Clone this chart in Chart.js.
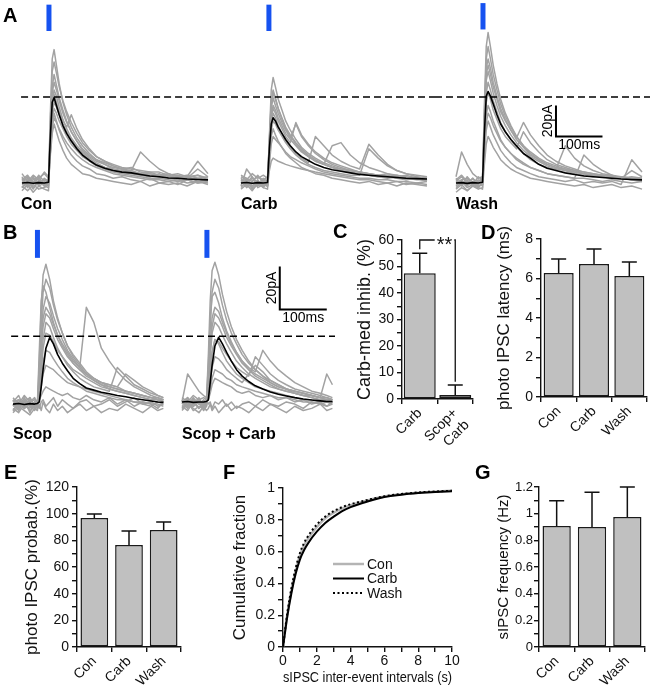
<!DOCTYPE html>
<html>
<head>
<meta charset="utf-8">
<title>Carbachol and photo IPSCs</title>
<script src="https://cdn.jsdelivr.net/npm/chart.js@4.4.1/dist/chart.umd.min.js"></script>
<style>
    body { margin: 0; background: #fff; font-family: "Liberation Sans", Arial, sans-serif; }
    #fig { position: relative; width: 650px; height: 687px; overflow: hidden; }
    #fig canvas { position: absolute; }
    .lab { position: absolute; font-weight: bold; line-height: 1; color: #000; white-space: nowrap; }
    .big { font-size: 20px; }
    .cond { font-size: 16px; }
</style>
</head>
<body>
<div id="fig">
    <canvas id="a1" width="220" height="200" style="left:0;top:0"></canvas>
    <canvas id="a2" width="215" height="200" style="left:220px;top:0"></canvas>
    <canvas id="a3" width="215" height="200" style="left:435px;top:0"></canvas>
    <canvas id="b1" width="175" height="200" style="left:0;top:220px"></canvas>
    <canvas id="b2" width="160" height="200" style="left:175px;top:220px"></canvas>
    <canvas id="cC" width="155" height="240" style="left:325px;top:222px"></canvas>
    <canvas id="cD" width="162" height="220" style="left:488px;top:222px"></canvas>
    <canvas id="cE" width="190" height="217" style="left:0;top:470px"></canvas>
    <canvas id="cF" width="240" height="217" style="left:222px;top:470px"></canvas>
    <canvas id="cG" width="180" height="217" style="left:470px;top:470px"></canvas>

    <div class="lab big" style="left:3px;top:5px">A</div>
    <div class="lab big" style="left:3px;top:222px">B</div>
    <div class="lab big" style="left:333px;top:221px">C</div>
    <div class="lab big" style="left:481px;top:222px">D</div>
    <div class="lab big" style="left:4px;top:462px">E</div>
    <div class="lab big" style="left:223px;top:462px">F</div>
    <div class="lab big" style="left:475px;top:462px">G</div>

    <div class="lab cond" style="left:21px;top:196px">Con</div>
    <div class="lab cond" style="left:241px;top:196px">Carb</div>
    <div class="lab cond" style="left:456px;top:196px">Wash</div>
    <div class="lab cond" style="left:13px;top:426px">Scop</div>
    <div class="lab cond" style="left:182px;top:426px">Scop + Carb</div>
</div>

<script>
    // ---- data ----
    // A: photo IPSC sweeps (ms, pA)
    const timeA = [0, 12, 24, 36, 48, 57, 61, 65, 69, 74, 80, 88, 96, 106, 118, 130, 145, 160, 178, 196, 215, 235, 255, 275, 295, 315, 335, 355, 378, 400];
    const conMean = [0, 0.3, -0.2, 0.2, 0, 0.5, 30, 52, 55, 50, 44, 37, 32, 27, 22, 18, 14.5, 11.5, 9.5, 8, 7, 6.5, 5.5, 4.5, 4, 3.2, 3, 2.5, 2.2, 2];
    const conSweeps = [
        [3, -2, 4, -1, 2, 0, 45, 80, 86, 76, 64, 52, 44, 36, 29, 24, 19, 15, 13, 11, 9, 10, 7, 6, 5, 6, 4, 5, 3, 4],
        [-3, 2, -4, 1, -2, -3, 35, 62, 70, 63, 55, 47, 40, 33, 27, 21, 17, 14, 12, 9, 8, 7, 5, 4, 6, 3, 2, 4, 1, 2],
        [6, 1, 5, 2, 7, 4, 20, 38, 45, 40, 34, 28, 23, 18, 14, 11, 9, 6, 5, 3, 4, 2, 1, 3, 0, 1, -1, 2, 0, 1],
        [-5, -1, -6, -2, -4, -5, 28, 52, 60, 56, 49, 41, 35, 29, 24, 20, 16, 13, 10, 8, 7, 8, 20, 14, 9, 6, 4, 3, 5, 2],
        [1, 4, -1, 5, 1, 2, 25, 46, 52, 49, 44, 38, 33, 28, 23, 19, 15, 12, 10, 9, 7, 6, 5, 6, 4, 5, 3, 4, 14, 6],
        [-2, -5, -1, -4, -3, -1, 18, 32, 38, 33, 27, 21, 16, 12, 9, 6, 5, 3, 2, 1, 0, -1, 1, -2, 0, -1, 0, -2, 1, -1],
        [0, 3, -3, 2, -1, 1, 40, 72, 78, 71, 62, 53, 46, 39, 32, 26, 21, 17, 14, 12, 10, 9, 8, 7, 7, 5, 6, 4, 5, 3],
        [2, 5, 0, 3, 6, 3, 33, 58, 65, 60, 53, 45, 39, 33, 27, 22, 18, 15, 12, 10, 9, 7, 6, 7, 5, 4, 5, 3, 9, 4],
        [-1, 1, 3, -2, 0, -2, 22, 42, 48, 45, 40, 35, 30, 25, 21, 17, 14, 11, 9, 7, 6, 5, 4, 3, 3, 2, 1, 2, 0, 1],
        [4, -3, 1, -1, 3, 1, 29, 50, 57, 52, 46, 40, 36, 44, 35, 28, 22, 17, 14, 11, 9, 8, 6, 5, 4, 4, 3, 2, 3, 2],
        [-3, 0, 2, 4, -2, 0, 20, 36, 42, 39, 35, 30, 26, 22, 18, 15, 12, 10, 8, 6, 5, 4, 3, 2, 2, 1, 2, 0, 1, 0]
    ];
    const carbMean = [0, 0.3, -0.2, 0.2, 0, 0.3, 22, 38, 42, 40, 36, 32, 28, 24, 20, 17, 14.5, 12, 10, 8.5, 7.5, 6.5, 5.5, 5, 4.5, 4, 3.5, 3, 2.8, 2.5];
    const carbSweeps = [
        [2, -1, 3, 0, 1, -2, 30, 60, 68, 62, 54, 47, 40, 34, 28, 23, 19, 16, 13, 11, 9, 8, 7, 6, 5, 4, 5, 3, 4, 2],
        [-3, 1, -4, -1, -2, -1, 25, 48, 55, 50, 45, 39, 34, 29, 38, 30, 24, 19, 15, 12, 10, 8, 7, 5, 4, 5, 3, 2, 3, 1],
        [4, 2, 6, 3, 5, 3, 18, 38, 45, 42, 37, 32, 27, 23, 19, 16, 13, 30, 24, 18, 14, 11, 9, 25, 18, 12, 8, 6, 5, 4],
        [-2, 9, 4, -3, -1, -2, 8, 14, 16, 15, 14, 13, 12, 11, 10, 9, 8, 7, 6, 5, 4, 3, 2, 2, 1, 0, 1, -1, 0, -1],
        [1, -3, 0, -2, 2, 0, 28, 53, 60, 55, 48, 41, 35, 30, 25, 21, 17, 14, 12, 24, 26, 18, 13, 10, 8, 6, 5, 4, 3, 2],
        [-4, -1, -5, 0, -3, -4, 15, 30, 35, 31, 27, 23, 19, 16, 13, 10, 8, 6, 5, 3, 2, 1, 0, 1, -1, 0, -2, 0, -1, -2],
        [5, 3, 1, 4, 2, 4, 24, 44, 50, 47, 42, 37, 32, 28, 24, 20, 17, 14, 12, 10, 9, 8, 7, 6, 5, 6, 4, 5, 3, 4],
        [0, 3, -2, 2, -3, 1, 27, 51, 58, 54, 48, 42, 36, 31, 26, 22, 18, 15, 12, 10, 8, 7, 6, 5, 4, 3, 4, 2, 3, 1],
        [3, -2, 1, 5, 0, 2, 17, 34, 40, 38, 34, 30, 26, 22, 18, 15, 12, 10, 8, 7, 6, 5, 5, 22, 16, 11, 8, 6, 4, 3],
        [-1, 2, -3, 1, -1, -2, 21, 42, 48, 45, 40, 35, 30, 26, 39, 31, 25, 20, 16, 13, 11, 9, 7, 6, 5, 4, 3, 3, 2, 2],
        [2, 0, 4, -1, 3, 1, 12, 25, 30, 28, 26, 23, 20, 17, 15, 13, 11, 9, 7, 6, 5, 4, 3, 3, 2, 2, 1, 1, 0, 1]
    ];
    const washMean = [0, 0.2, -0.3, 0.2, 0, 0.5, 32, 56, 59, 56, 51, 44, 38, 33, 28, 24, 19, 16, 12, 9.5, 8, 6.5, 5.5, 4.5, 4, 3.5, 3, 2.5, 2.2, 2];
    const washSweeps = [
        [3, -2, 4, 0, 2, 1, 50, 88, 97, 88, 76, 64, 54, 45, 37, 30, 24, 19, 15, 12, 10, 8, 7, 6, 5, 4, 5, 3, 4, 3],
        [-2, 1, -3, -1, -2, -1, 42, 74, 80, 74, 65, 56, 48, 41, 34, 29, 39, 31, 24, 18, 14, 11, 9, 7, 6, 5, 4, 3, 2, 2],
        [4, 20, 12, 6, 3, 4, 32, 58, 65, 60, 53, 46, 39, 33, 28, 23, 19, 15, 12, 10, 9, 24, 16, 11, 8, 6, 5, 4, 3, 2],
        [-4, -1, -5, -2, -3, -4, 24, 44, 50, 46, 40, 34, 28, 23, 19, 15, 12, 10, 8, 6, 5, 4, 3, 18, 12, 8, 5, 3, 2, 1],
        [1, 4, 0, 3, -1, 1, 18, 34, 40, 36, 31, 26, 21, 17, 13, 10, 8, 6, 4, 3, 2, 1, 2, 0, 1, 0, 1, -1, 15, 7],
        [-1, 2, -2, 1, -3, 0, 36, 66, 72, 66, 58, 50, 43, 37, 31, 26, 21, 17, 14, 11, 9, 8, 6, 5, 4, 5, 3, 4, 2, 3],
        [-6, -3, -5, -2, -4, -3, 12, 25, 30, 27, 23, 19, 15, 12, 9, 7, 5, 3, 2, 1, 0, -1, -2, -1, -3, -2, -1, -3, -2, -4],
        [1, -1, 2, -2, 0, 2, 45, 80, 88, 80, 70, 60, 51, 43, 36, 30, 24, 20, 16, 13, 11, 9, 8, 7, 6, 5, 4, 4, 3, 3],
        [2, 5, 1, -1, 4, 2, 29, 52, 58, 54, 47, 41, 35, 30, 26, 22, 33, 26, 20, 15, 12, 10, 8, 6, 5, 4, 3, 3, 2, 2],
        [-3, 0, -1, 3, -2, -1, 22, 39, 45, 42, 37, 32, 27, 23, 19, 16, 13, 10, 8, 6, 5, 4, 3, 3, 2, 1, 2, 1, 0, 1],
        [0, 2, 3, 0, 1, 3, 39, 70, 76, 70, 62, 54, 46, 40, 34, 28, 23, 18, 15, 12, 10, 9, 7, 6, 5, 5, 4, 3, 8, 4]
    ];

    // B: sweeps in scopolamine (ms, pA)
    const timeB = [0, 12, 24, 36, 46, 52, 56, 60, 64, 70, 78, 86, 95, 105, 116, 128, 142, 156, 172, 188, 205, 222, 240, 258, 276, 294, 308, 320];
    const scopMean = [0, 0.3, -0.2, 0.2, 0, 0.3, 1, 8, 16, 26, 31, 28, 23, 19, 15.5, 12, 9.5, 7.5, 6.5, 5.5, 4.8, 4, 3.4, 2.6, 2, 1.4, 1, 0.8];
    const scopSweeps = [
        [2, -2, 3, -1, 1, 0, 20, 45, 60, 65, 58, 48, 40, 33, 27, 22, 18, 14, 11, 9, 7, 6, 5, 4, 3, 2, 3, 1],
        [-3, 1, -2, 0, -2, -1, 10, 30, 44, 50, 47, 41, 35, 30, 25, 21, 17, 45, 38, 26, 20, 15, 11, 8, 6, 4, 3, 2],
        [1, 4, -2, 3, -1, 2, 2, 4, 6, 8, 7, 6, 5, 4, 5, 3, 2, 4, 2, 1, 3, 0, 2, -1, 1, 0, -2, 1],
        [-4, -1, -3, -5, -2, -3, 6, 18, 30, 38, 36, 31, 26, 22, 18, 15, 12, 10, 8, 7, 6, 17, 13, 9, 7, 5, 4, 3],
        [3, 0, 4, 1, 2, 1, 25, 48, 55, 52, 45, 38, 32, 27, 23, 19, 16, 13, 11, 9, 8, 7, 6, 5, 4, 3, 2, 2],
        [-2, -4, 0, -3, -1, -2, 4, 12, 20, 25, 24, 21, 18, 15, 12, 10, 8, 7, 6, 5, 4, 3, 2, 1, 0, 1, -1, 0],
        [0, -3, 2, -4, 1, -2, 0, -3, 1, -2, -4, 0, -3, -1, -4, -2, 0, -3, -1, -4, -2, -3, 0, -2, -4, -1, -3, -2],
        [1, 2, -1, 2, 0, 1, 12, 30, 40, 45, 42, 37, 32, 28, 24, 20, 17, 14, 12, 10, 9, 8, 6, 5, 4, 3, 3, 2],
        [-1, 2, 0, -2, 1, -1, 15, 38, 52, 58, 54, 46, 39, 33, 27, 23, 19, 15, 12, 10, 8, 7, 6, 5, 4, 3, 2, 2],
        [2, -1, 1, 3, -1, 1, 5, 15, 26, 33, 32, 29, 25, 22, 19, 16, 14, 12, 10, 8, 7, 6, 5, 4, 3, 2, 2, 1],
        [-1, 2, -2, 1, 3, 0, -2, 1, 2, -1, 1, 3, -1, 2, 0, -2, 1, 2, -1, 0, 2, -1, 1, 3, 0, -1, 1, 0],
        [0, -2, 1, -1, -3, 0, 8, 24, 36, 42, 40, 35, 30, 26, 22, 19, 16, 14, 12, 10, 9, 8, 14, 11, 8, 6, 4, 3],
        [-3, 0, -1, 1, -2, -1, 2, 8, 14, 18, 17, 16, 14, 12, 10, 9, 8, 6, 5, 4, 3, 2, 2, 1, 1, 0, 0, -1]
    ];
    const scopCarbMean = [1, 1.2, 0.8, 1, 1, 1.2, 2, 10, 18, 27, 31, 28, 24, 20, 16, 13, 10.5, 8.5, 7, 5.6, 4.6, 3.8, 3, 2.4, 1.9, 1.5, 1.2, 1.2];
    const scopCarbSweeps = [
        [2, -1, 3, 0, 2, 1, 22, 48, 62, 66, 60, 51, 43, 36, 30, 25, 20, 16, 13, 10, 8, 7, 6, 5, 4, 3, 3, 2],
        [-2, 1, -3, -1, -2, -1, 10, 28, 40, 45, 43, 38, 33, 28, 24, 20, 17, 15, 25, 20, 16, 13, 10, 8, 6, 5, 4, 3],
        [1, 14, 10, 6, 4, 3, 6, 15, 24, 30, 28, 24, 20, 17, 14, 12, 10, 8, 7, 6, 5, 4, 3, 2, 2, 1, 2, 1],
        [-3, 0, -2, -4, -1, -3, -2, 0, -3, -1, -4, -2, 0, -3, -1, -2, -4, -1, -3, 0, -2, -4, -1, -3, -2, 0, -3, -2],
        [3, 1, 4, 2, 3, 2, 18, 40, 50, 52, 47, 40, 34, 29, 24, 20, 16, 13, 11, 9, 7, 6, 5, 4, 4, 3, 14, 9],
        [0, 3, -1, 2, 0, 1, 3, 10, 17, 22, 21, 19, 16, 14, 12, 10, 14, 18, 15, 11, 9, 7, 5, 4, 3, 2, 1, 1],
        [-1, -3, 1, -2, 0, -1, 8, 22, 33, 38, 36, 32, 28, 24, 20, 17, 14, 12, 10, 8, 7, 6, 5, 4, 3, 2, 2, 1],
        [2, -1, 0, 3, -2, 1, 2, 5, 9, 12, 11, 10, 9, 8, 6, 5, 6, 4, 3, 4, 2, 3, 1, 2, 0, 1, -1, 0],
        [0, 2, -1, 1, 0, 2, 14, 36, 52, 58, 54, 46, 39, 33, 28, 23, 19, 16, 13, 11, 9, 7, 6, 5, 4, 3, 3, 2],
        [-1, 1, 2, -2, 1, 0, 5, 14, 24, 30, 29, 26, 23, 20, 17, 15, 13, 22, 18, 14, 11, 9, 7, 6, 5, 4, 3, 2],
        [1, -2, 2, 0, -1, 2, 0, 1, -2, 1, 0, 2, -1, 1, -2, 0, 1, -1, 2, 0, -1, 1, 0, -2, 1, 0, -1, 1],
        [-2, 0, -1, 1, -3, -1, 7, 24, 36, 42, 40, 36, 31, 27, 23, 19, 16, 14, 12, 10, 8, 7, 6, 5, 4, 3, 2, 2],
        [1, 3, 0, 2, -1, 1, 2, 7, 12, 16, 15, 14, 12, 11, 9, 8, 7, 6, 5, 4, 3, 3, 2, 1, 1, 0, 1, 0]
    ];

    // light flash times (ms), control peak levels (pA), scale bars
    const flashA = [58, 60, 58];
    const flashB = [52, 53];
    const dashLevelA = 55.5;
    const dashLevelB = 31.6;
    const scaleBarMs = 100;
    const scaleBarPA = 20;

    // C-G summary data
    const cCats = ['Carb', ['Scop+', 'Carb']];
    const cMean = [47.5, 1.5];
    const cErr = [7.5, 3.8];
    const conds = ['Con', 'Carb', 'Wash'];
    const dMean = [6.28, 6.73, 6.13];
    const dErr = [0.71, 0.76, 0.71];
    const eMean = [96.8, 76.5, 87.8];
    const eErr = [3, 10.5, 6];
    const gMean = [0.907, 0.9, 0.975];
    const gErr = [0.19, 0.26, 0.225];

    const fX = [0, 0.25, 0.5, 0.75, 1, 1.25, 1.5, 2, 2.5, 3, 3.5, 4, 5, 6, 7, 8, 9, 10];
    const fCon = [0, 0.2, 0.36, 0.48, 0.575, 0.64, 0.685, 0.755, 0.81, 0.845, 0.872, 0.892, 0.922, 0.946, 0.96, 0.97, 0.977, 0.982];
    const fCarb = [0, 0.19, 0.34, 0.46, 0.55, 0.61, 0.655, 0.725, 0.78, 0.82, 0.855, 0.88, 0.915, 0.943, 0.958, 0.968, 0.975, 0.98];
    const fWash = [0, 0.21, 0.37, 0.495, 0.59, 0.655, 0.70, 0.77, 0.82, 0.855, 0.88, 0.898, 0.925, 0.948, 0.962, 0.972, 0.978, 0.983];

    // ---- chart setup ----
    const FONT = '"Liberation Sans", Arial, sans-serif';
    Chart.defaults.font.family = FONT;
    Chart.defaults.font.size = 14;
    Chart.defaults.color = '#111';

    function pts(t, v) {
        return t.map((x, i) => ({x: x, y: v[i]}));
    }

    // dashed line at the control peak level, runs to the canvas edge
    const refLine = {
        id: 'refLine',
        afterDatasetsDraw(chart, args, o) {
            if (o.level == null) return;
            const ctx = chart.ctx;
            const py = chart.scales.y.getPixelForValue(o.level);
            const x0 = o.from != null ? chart.scales.x.getPixelForValue(o.from) : 0;
            ctx.save();
            ctx.strokeStyle = '#000';
            ctx.lineWidth = 1.5;
            ctx.setLineDash([7, 4]);
            ctx.beginPath();
            ctx.moveTo(x0, py);
            ctx.lineTo(chart.width, py);
            ctx.stroke();
            ctx.restore();
        }
    };

    const scaleBar = {
        id: 'scaleBar',
        afterDatasetsDraw(chart, args, o) {
            if (!o.ms) return;
            const {ctx, scales: {x, y}} = chart;
            const x0 = x.getPixelForValue(o.t), x1 = x.getPixelForValue(o.t + o.ms);
            const y0 = y.getPixelForValue(o.v), y1 = y.getPixelForValue(o.v + o.pA);
            ctx.save();
            ctx.strokeStyle = '#000';
            ctx.lineWidth = 2;
            ctx.beginPath();
            ctx.moveTo(x0, y1);
            ctx.lineTo(x0, y0);
            ctx.lineTo(x1, y0);
            ctx.stroke();
            ctx.fillStyle = '#000';
            ctx.font = '14px ' + FONT;
            ctx.textAlign = 'center';
            ctx.textBaseline = 'top';
            ctx.fillText(o.ms + 'ms', (x0 + x1) / 2, y0 + 2);
            ctx.translate(x0 - 8, (y0 + y1) / 2);
            ctx.rotate(-Math.PI / 2);
            ctx.textBaseline = 'middle';
            ctx.fillText(o.pA + 'pA', 0, 0);
            ctx.restore();
        }
    };

    function traceChart(id, t, mean, sweeps, cfg) {
        const ds = [{data: pts(t, mean), borderColor: '#000', borderWidth: 1.6}];
        sweeps.forEach(s => ds.push({data: pts(t, s), borderColor: '#a2a2a2', borderWidth: 1.5}));
        ds.push({
            data: [{x: cfg.stim, y: cfg.stimY[0]}, {x: cfg.stim, y: cfg.stimY[1]}],
            borderColor: '#1652f0', borderWidth: 5, borderCapStyle: 'butt'
        });
        ds.forEach(d => { d.pointRadius = 0; d.clip = false; d.borderJoinStyle = 'round'; });
        return new Chart(document.getElementById(id), {
            type: 'line',
            data: {datasets: ds},
            options: {
                responsive: false, animation: false, devicePixelRatio: 1,
                layout: {padding: 0},
                scales: {
                    x: {type: 'linear', display: false, min: cfg.xr[0], max: cfg.xr[1]},
                    y: {display: false, min: cfg.yr[0], max: cfg.yr[1]}
                },
                plugins: {
                    legend: {display: false}, tooltip: {enabled: false},
                    refLine: {level: cfg.level, from: cfg.from},
                    scaleBar: cfg.bar || {}
                }
            },
            plugins: [refLine, scaleBar]
        });
    }

    const yrA = [-11, 118], yrB = [-7.4, 85.6];
    traceChart('a1', timeA, conMean, conSweeps, {xr: [-47.3, 425.8], yr: yrA, stim: flashA[0], stimY: [98, 115], level: dashLevelA, from: -2});
    traceChart('a2', timeA, carbMean, carbSweeps, {xr: [-45.2, 417.2], yr: yrA, stim: flashA[1], stimY: [98, 115], level: dashLevelA});
    traceChart('a3', timeA, washMean, washSweeps, {xr: [-45.2, 417.2], yr: yrA, stim: flashA[2], stimY: [99, 116], level: dashLevelA,
        bar: {t: 215, v: 30, ms: scaleBarMs, pA: scaleBarPA}});
    traceChart('b1', timeB, scopMean, scopSweeps, {xr: [-27.7, 344.7], yr: yrB, stim: flashB[0], stimY: [68, 81], level: dashLevelB, from: -4});
    traceChart('b2', timeB, scopCarbMean, scopCarbSweeps, {xr: [-14.9, 325.5], yr: yrB, stim: flashB[1], stimY: [68, 81], level: dashLevelB,
        bar: {t: 208, v: 44, ms: scaleBarMs, pA: scaleBarPA}});

    // fixed axis boxes so the plot areas land where the figure has them
    function fixBox(size, horiz) {
        return s => {
            if (horiz) s.height = size; else s.width = size;
            s.paddingTop = s.paddingBottom = s.paddingLeft = s.paddingRight = 0;
        };
    }

    function tickFmt(step, every) {
        return v => Math.round(v / step) % every === 0 ? String(+v.toFixed(2)) : '';
    }

    function yAxis(min, max, step, every, w, title, size, pad, tfont, tpad) {
        return {
            min: min, max: max,
            border: {color: '#111', width: 1.4},
            grid: {drawOnChartArea: false, tickLength: 5, color: '#111', lineWidth: 1.4},
            ticks: {stepSize: step, autoSkip: false, padding: tpad == null ? 3 : tpad,
                font: {size: tfont || 14}, callback: tickFmt(step, every)},
            title: {display: true, text: title, font: {size: size}, color: '#111', padding: {top: pad, bottom: 0}},
            afterFit: fixBox(w, false)
        };
    }

    function xCat(h) {
        return {
            border: {color: '#111', width: 1.4},
            grid: {drawOnChartArea: false, tickLength: 5, color: '#111', lineWidth: 1.4, offset: true},
            ticks: {autoSkip: false, minRotation: 45, maxRotation: 45, padding: 1, font: {size: 14}},
            afterFit: fixBox(h, true)
        };
    }

    const errBars = {
        id: 'errBars',
        afterDatasetsDraw(chart, args, o) {
            if (!o.err) return;
            const ctx = chart.ctx, y = chart.scales.y;
            const vals = chart.data.datasets[0].data;
            ctx.save();
            ctx.strokeStyle = '#111';
            ctx.lineWidth = 1.5;
            chart.getDatasetMeta(0).data.forEach((bar, i) => {
                const top = y.getPixelForValue(vals[i] + o.err[i]);
                ctx.beginPath();
                ctx.moveTo(bar.x, bar.y);
                ctx.lineTo(bar.x, top);
                ctx.moveTo(bar.x - 7.5, top);
                ctx.lineTo(bar.x + 7.5, top);
                ctx.stroke();
            });
            ctx.restore();
        }
    };

    const sigBracket = {
        id: 'sigBracket',
        afterDatasetsDraw(chart, args, o) {
            if (!o.text) return;
            const {ctx, scales: {x, y}} = chart;
            const xa = x.getPixelForValue(0), xb = x.getPixelForValue(1);
            const yt = y.getPixelForValue(o.level);
            ctx.save();
            ctx.font = '20px ' + FONT;
            const w = ctx.measureText(o.text).width;
            const tx = xb - w / 2 - 3;
            ctx.strokeStyle = '#111';
            ctx.lineWidth = 1.3;
            ctx.beginPath();
            ctx.moveTo(xa, y.getPixelForValue(o.fromA));
            ctx.lineTo(xa, yt);
            ctx.lineTo(tx - w / 2 - 2, yt);
            ctx.moveTo(xb - 1, yt);
            ctx.lineTo(xb, yt);
            ctx.lineTo(xb, y.getPixelForValue(o.fromB));
            ctx.stroke();
            ctx.fillStyle = '#111';
            ctx.textAlign = 'center';
            ctx.textBaseline = 'alphabetic';
            ctx.fillText(o.text, tx, yt + 11);
            ctx.restore();
        }
    };

    function barChart(id, cats, mean, err, cfg) {
        return new Chart(document.getElementById(id), {
            type: 'bar',
            data: {
                labels: cats,
                datasets: [{
                    data: mean, backgroundColor: '#c0c0c0', borderColor: '#1a1a1a', borderWidth: 1.5,
                    borderSkipped: false, barPercentage: cfg.bp, categoryPercentage: 1
                }]
            },
            options: {
                responsive: false, animation: false, devicePixelRatio: 1,
                layout: {padding: cfg.pad},
                scales: {x: xCat(cfg.xh), y: cfg.y},
                plugins: {
                    legend: {display: false}, tooltip: {enabled: false},
                    errBars: {err: err},
                    sigBracket: cfg.bracket || {}
                }
            },
            plugins: [errBars, sigBracket]
        });
    }

    barChart('cC', cCats, cMean, cErr, {
        bp: 0.9, xh: 63, pad: {left: 0, top: 18, right: 7, bottom: 0},
        y: yAxis(0, 60, 5, 2, 77, 'Carb-med inhib. (%)', 18, 29),
        bracket: {text: '**', level: 60, fromA: 56.5, fromB: 6.5}
    });
    barChart('cD', conds, dMean, dErr, {
        bp: 0.85, xh: 45, pad: {left: 0, top: 17, right: 3, bottom: 0},
        y: yAxis(0, 8, 1, 2, 53, 'photo IPSC latency (ms)', 17, 5.8)
    });
    barChart('cE', conds, eMean, eErr, {
        bp: 0.8, xh: 40, pad: {left: 0, top: 17, right: 9, bottom: 0},
        y: yAxis(0, 120, 10, 2, 77, 'photo IPSC probab.(%)', 17, 21.8)
    });
    barChart('cG', conds, gMean, gErr, {
        bp: 0.8, xh: 40, pad: {left: 0, top: 17, right: 5, bottom: 0},
        y: yAxis(0, 1.2, 0.1, 2, 69, 'sIPSC frequency (Hz)', 15, 25, 13, 1)
    });

    // F: cumulative distributions with a small key inside the plot
    const lineKey = {
        id: 'lineKey',
        afterDatasetsDraw(chart, args, o) {
            if (o.x == null) return;
            const ctx = chart.ctx, a = chart.chartArea;
            chart.data.datasets.forEach((d, i) => {
                const yy = a.top + o.y + i * o.gap;
                const x0 = a.left + o.x;
                ctx.save();
                ctx.strokeStyle = d.borderColor;
                ctx.lineWidth = d.borderWidth;
                ctx.setLineDash(d.borderDash || []);
                ctx.beginPath();
                ctx.moveTo(x0, yy);
                ctx.lineTo(x0 + o.len, yy);
                ctx.stroke();
                ctx.fillStyle = '#111';
                ctx.font = '14px ' + FONT;
                ctx.textBaseline = 'middle';
                ctx.fillText(d.label, x0 + o.len + 3, yy + 1);
                ctx.restore();
            });
        }
    };

    new Chart(document.getElementById('cF'), {
        type: 'line',
        data: {
            datasets: [
                {label: 'Con', data: pts(fX, fCon), borderColor: '#b4b4b4', borderWidth: 2.5, order: 2},
                {label: 'Carb', data: pts(fX, fCarb), borderColor: '#000', borderWidth: 2, order: 0},
                {label: 'Wash', data: pts(fX, fWash), borderColor: '#000', borderWidth: 2, borderDash: [2, 2.5], order: 1}
            ]
        },
        options: {
            responsive: false, animation: false, devicePixelRatio: 1,
            layout: {padding: {left: 0, top: 18, right: 10, bottom: 0}},
            elements: {point: {radius: 0}, line: {cubicInterpolationMode: 'monotone'}},
            scales: {
                x: {
                    type: 'linear', min: 0, max: 10,
                    border: {color: '#111', width: 1.4},
                    grid: {drawOnChartArea: false, tickLength: 5, color: '#111', lineWidth: 1.4},
                    ticks: {stepSize: 1, autoSkip: false, maxRotation: 0, padding: 1, callback: tickFmt(1, 2)},
                    title: {display: true, text: 'sIPSC inter-event intervals (s)', font: {size: 14}, color: '#111', padding: 0},
                    afterFit: fixBox(40, true)
                },
                y: yAxis(0, 1, 0.1, 2, 61, 'Cumulative fraction', 17, 7.8)
            },
            plugins: {
                legend: {display: false}, tooltip: {enabled: false},
                lineKey: {x: 50, y: 76, gap: 14.5, len: 31}
            }
        },
        plugins: [lineKey]
    });
</script>
</body>
</html>
